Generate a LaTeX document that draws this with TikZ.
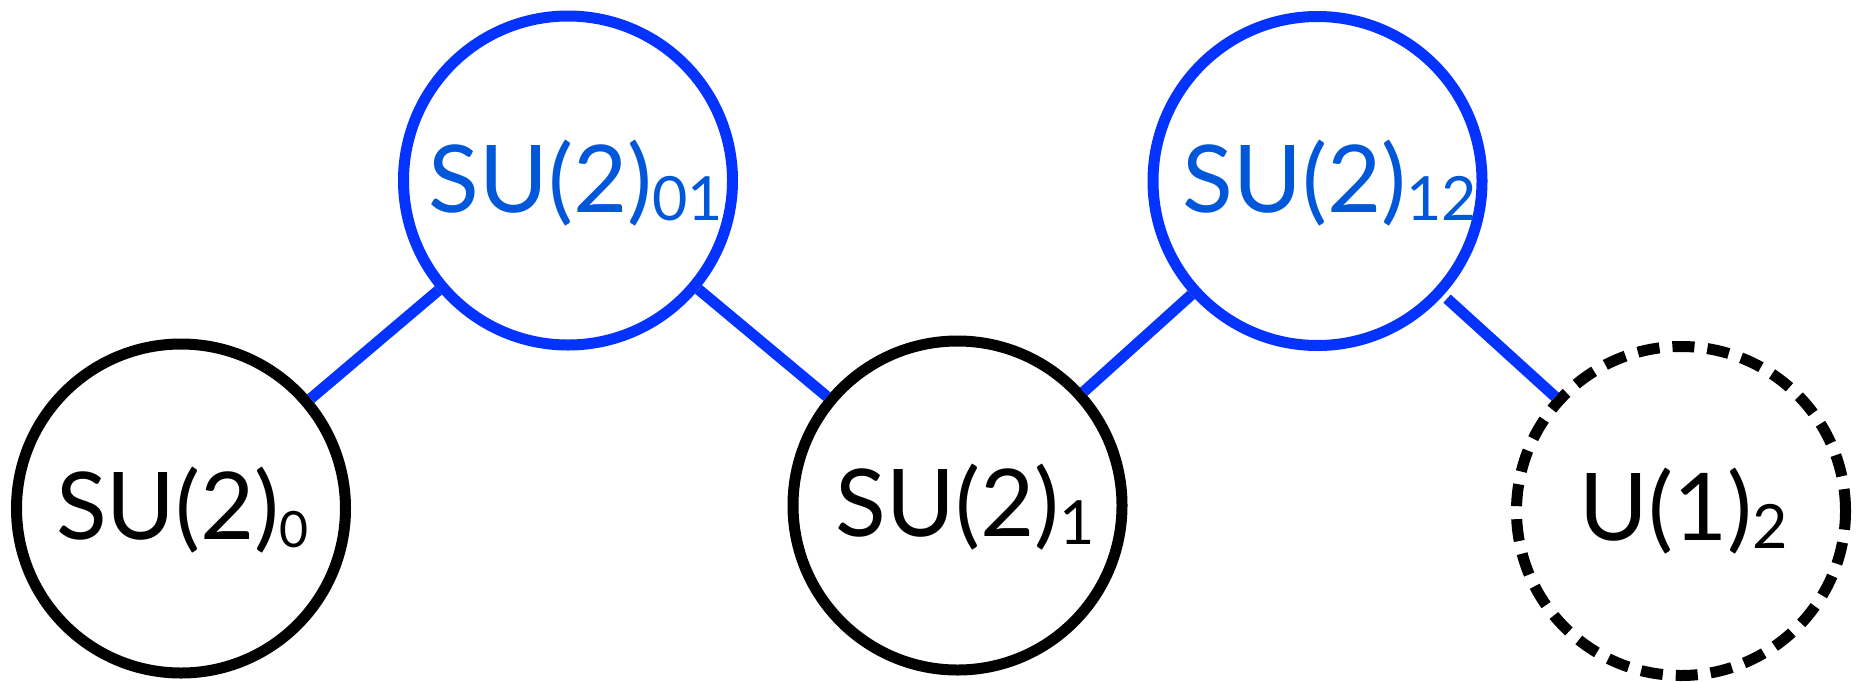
\documentclass[tikz,border=0pt]{standalone}
\usepackage{fontspec}
\setmainfont{Lato}
\definecolor{circblue}{HTML}{0433FF}
\definecolor{textblue}{HTML}{0057D9}
\newcommand\subtxt[2][61]{\raisebox{-8pt}{\fontsize{#1}{#1}\selectfont #2}}
\begin{document}
\begin{tikzpicture}[x=1pt,y=-1pt,
  blob/.style={circle,draw,line width=11pt,minimum size=329pt,inner sep=0pt},
  bluecirc/.style={blob,draw=circblue},
  blackcirc/.style={blob,draw=black},
  dashcirc/.style={blob,draw=black,dash pattern=on 22pt off 13pt},
  edge/.style={draw=circblue,line width=11pt},
  lbl/.style={anchor=base,inner sep=0pt,font=\fontsize{93.5}{100}\selectfont},
  bluelbl/.style={lbl,text=textblue},
  blacklbl/.style={lbl,text=black}]
\useasboundingbox (0,0) rectangle (1862,681);
\node[blackcirc] (A) at (181,508.5) {};
\node[bluecirc]  (B) at (568,180.5) {};
\node[blackcirc] (C) at (957.5,505.5) {};
\node[bluecirc]  (D) at (1317.5,181) {};
\node[dashcirc]  (E) at (1681,511) {};
\node[blacklbl] (tA) at (182.5,539) {SU(2)\subtxt[50]{0}};
\node[bluelbl]  (tB) at (576,212) {SU(2)\subtxt{01}};
\node[blacklbl] (tC) at (965.5,536) {SU(2)\subtxt{1}};
\node[bluelbl]  (tD) at (1330,212) {SU(2)\subtxt{12}};
\node[blacklbl] (tE) at (1684,540) {U(1)\subtxt{2}};
\draw[edge] (A) -- (B);
\draw[edge] (B) -- (C);
\draw[edge] (C) -- (D);
\draw[edge,shorten <=5pt] (D) -- (E);
\end{tikzpicture}
\end{document}
